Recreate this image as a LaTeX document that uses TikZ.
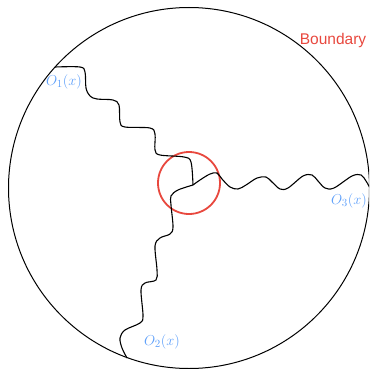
\documentclass[tikz,border=0pt]{standalone}
\usepackage{fontspec}
\newfontfamily\labelfont{Liberation Sans}
\usepackage{tikz}
\usetikzlibrary{positioning, calc}

\definecolor{opblue}{RGB}{95,160,250}
\definecolor{bdred}{RGB}{232,72,62}

\begin{document}
\begin{tikzpicture}[
    x=1pt, y=-1pt,
    wave/.style={black, line width=1.1pt, smooth, tension=0.55},
    oplabel/.style={text=opblue, font=\fontsize{15}{17}\selectfont, inner sep=0pt},
    boundary/.style={black, line width=1pt},
    core/.style={draw=bdred, line width=1.8pt, circle, minimum size=62pt, inner sep=0pt}
]
\useasboundingbox (0,0) rectangle (369,369);
\clip (0,0) rectangle (369,369);

% disc and its boundary
\draw[boundary] (189,188) circle (180.5);
\node[text=bdred, font=\labelfont\fontsize{15.5}{17}\selectfont, inner sep=0pt] (bdlabel) at (333,40) {Boundary};

% end points and meeting point
\coordinate (junction) at (193,185);
\coordinate (end1) at (55,67);
\coordinate (end2) at (127,358);
\coordinate (end3) at (370,188);

\node[core] (ring) at (189,183) {};

% operator lines
\draw[wave] plot coordinates {(end1) (80,67) (85,72) (86,88) (90,96) (97,99) (113,100) (119,105) (120,122) (125,127) (150,128) (155,134) (155,150) (160,155) (184,157) (191,162) (junction)};
\draw[wave] plot coordinates {(junction) (200,180) (210,174) (217,173) (222,179) (230,187) (238,189) (246,185) (257,178) (266,177) (272,182) (280,189) (288,188) (303,176) (312,175) (318,181) (325,188) (334,188) (352,176) (361,175) (366,181) (end3)};
\draw[wave] plot coordinates {(junction) (178,190) (171,196) (171,205) (173,227) (170,234) (160,238) (155,246) (157,270) (156,280) (145,283) (141,290) (143,316) (140,323) (125,330) (120,338) (122,348) (end2)};

\node[oplabel] (op1) at (64,82) {$O_1(x)$};
\node[oplabel] (op2) at (162,342) {$O_2(x)$};
\node[oplabel] (op3) at (349,201) {$O_3(x)$};

\end{tikzpicture}
\end{document}
